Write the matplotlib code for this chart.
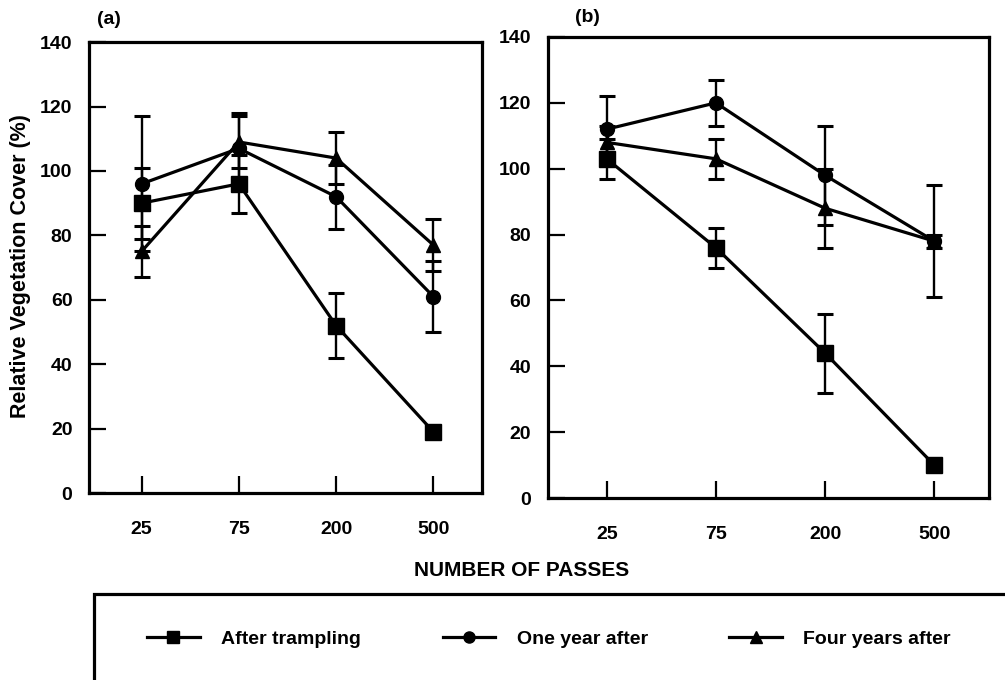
import matplotlib.pyplot as plt
from matplotlib.patches import Rectangle
from matplotlib.lines import Line2D

plt.rcParams['font.family'] = ['Liberation Sans', 'DejaVu Sans']
plt.rcParams['font.weight'] = 'bold'

passes = ["25", "75", "200", "500"]
series = ["After trampling", "One year after", "Four years after"]
markers = ["s", "o", "^"]

# panel (a)
a_mean = {
    "After trampling": [90, 96, 52, 19],
    "One year after": [96, 107, 92, 61],
    "Four years after": [75, 109, 104, 77],
}
a_err = {
    "After trampling": [11, 9, 10, 0],
    "One year after": [21, 11, 10, 11],
    "Four years after": [8, 8, 8, 8],
}
# panel (b)
b_mean = {
    "After trampling": [103, 76, 44, 10],
    "One year after": [112, 120, 98, 78],
    "Four years after": [108, 103, 88, 78],
}
b_err = {
    "After trampling": [6, 6, 12, 0],
    "One year after": [10, 7, 15, 17],
    "Four years after": [5, 6, 12, 2],
}

fig = plt.figure(figsize=(10.05, 6.8), dpi=100)
ax_a = fig.add_axes([0.0886, 0.275, 0.391, 0.663])
ax_b = fig.add_axes([0.545, 0.2676, 0.439, 0.678])

x = range(len(passes))
for ax, means, errs in [(ax_a, a_mean, a_err), (ax_b, b_mean, b_err)]:
    for name, m in zip(series, markers):
        ax.errorbar(x, means[name], yerr=errs[name], color="black",
                    marker=m, markersize=11 if m == "s" else 10,
                    lw=2.3, elinewidth=1.7, capsize=6, capthick=2.2)
    ax.set_xlim(-0.54, 3.5)
    ax.set_ylim(0, 140)
    ax.set_xticks(list(x))
    ax.set_xticklabels(passes)
    ax.set_yticks(range(0, 141, 20))
    ax.tick_params(direction="in", length=12, width=1.6, labelsize=14)
    ax.tick_params(axis="x", pad=20)
    ax.tick_params(axis="y", pad=12)
    ax.tick_params(top=False, right=False)
    for s in ax.spines.values():
        s.set_linewidth(2.3)

fig.text(97 / 1005, 1 - 20 / 680, "(a)", fontsize=14, va="center")
fig.text(575 / 1005, 1 - 18 / 680, "(b)", fontsize=14, va="center")
fig.text(21 / 1005, 1 - 266 / 680, "Relative Vegetation Cover (%)",
         rotation=90, fontsize=15.5, ha="center", va="center")
fig.text(522 / 1005, 1 - 571 / 680, "NUMBER OF PASSES", fontsize=15,
         ha="center", va="center")

# legend box
fig.add_artist(Rectangle((94 / 1005, -0.05), 1.0, 0.05 + 1 - 594 / 680,
                         transform=fig.transFigure, fill=False,
                         edgecolor="black", lw=2.3))
handles = [Line2D([], [], color="black", marker=m, markersize=8, lw=2.3)
           for m in markers]
fig.legend(handles, series, loc="center", bbox_to_anchor=(549 / 1005, 1 - 639 / 680),
           ncol=3, frameon=False, fontsize=14, handlelength=2.7,
           handletextpad=1.1, columnspacing=4.2)

fig.savefig("out.png", dpi=100)
